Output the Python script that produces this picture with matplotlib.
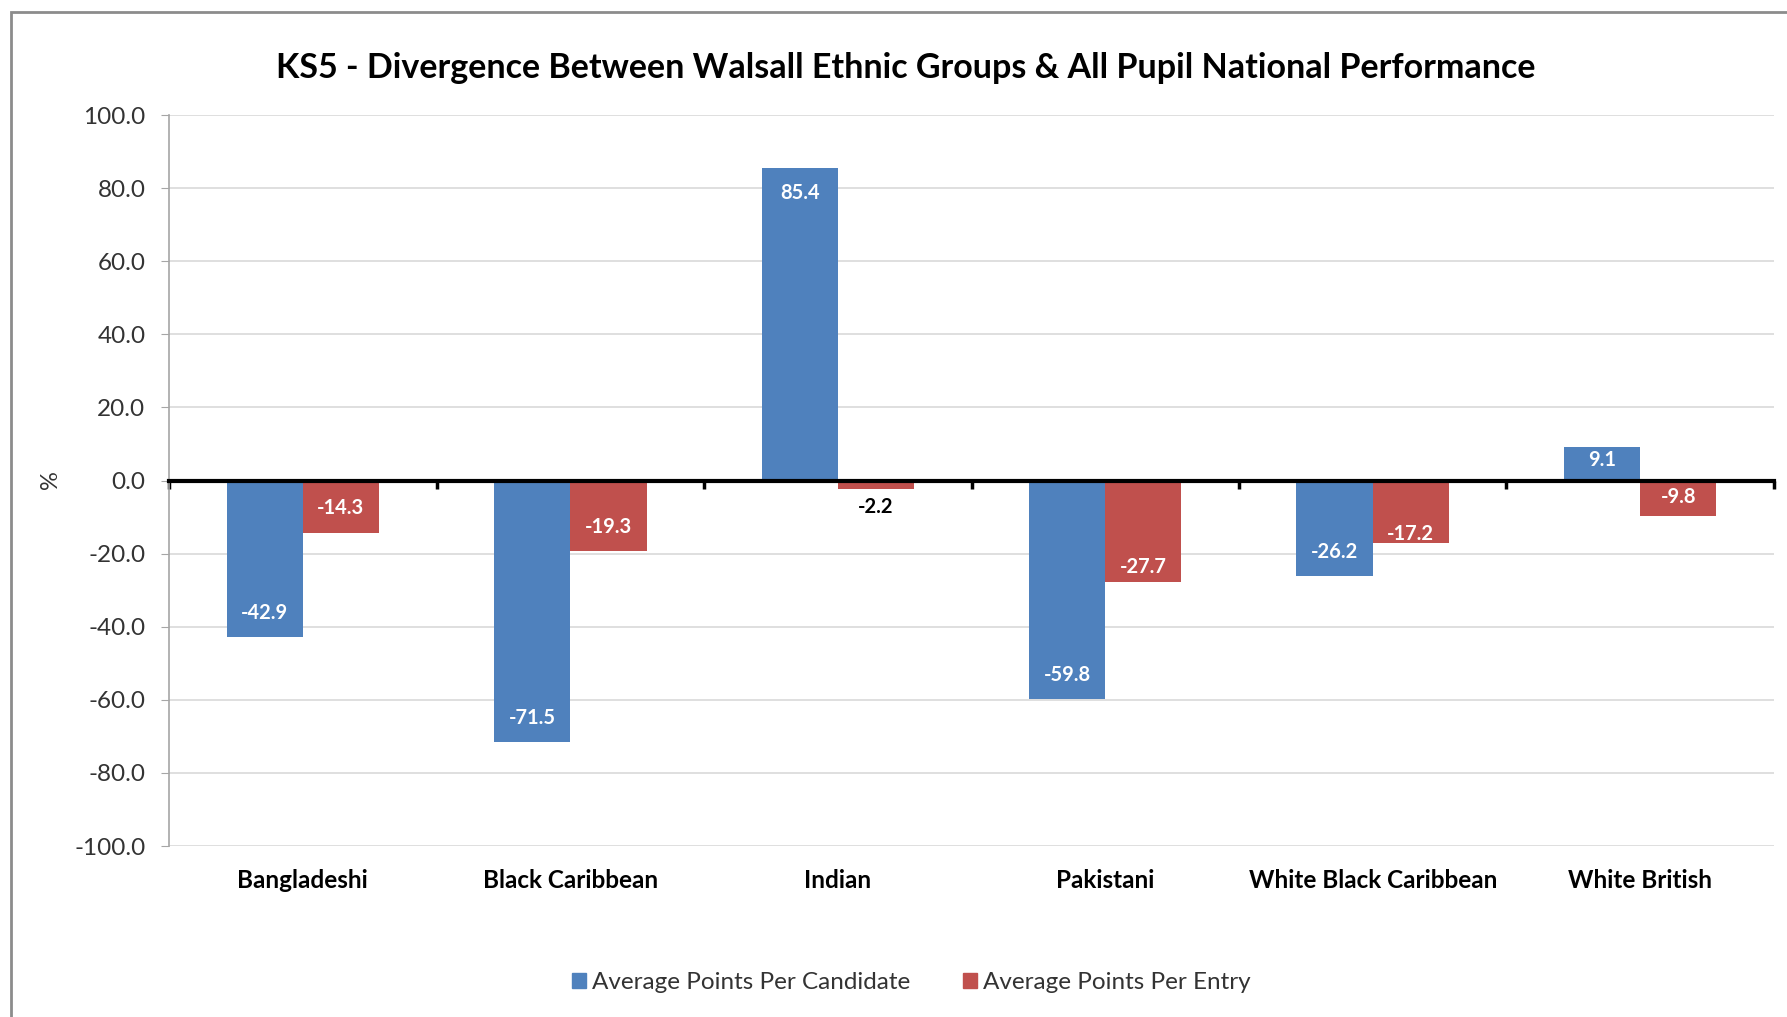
import numpy as np
import matplotlib
matplotlib.use("Agg")
import matplotlib.pyplot as plt
from matplotlib.patches import Rectangle
from matplotlib.patches import Patch
import matplotlib.transforms as mtransforms

plt.rcParams['font.family'] = ['Lato', 'DejaVu Sans']

# data
groups = ["Bangladeshi", "Black Caribbean", "Indian", "Pakistani",
          "White Black Caribbean", "White British"]
per_candidate = [-42.9, -71.5, 85.4, -59.8, -26.2, 9.1]
per_entry = [-14.3, -19.3, -2.2, -27.7, -17.2, -9.8]
series_names = ["Average Points Per Candidate", "Average Points Per Entry"]
yticks = [100, 80, 60, 40, 20, 0, -20, -40, -60, -80, -100]

blue = "#4F81BD"
red = "#C0504D"

fig = plt.figure(figsize=(17.87, 10.17), dpi=100)
# outer chart frame (cropped on right and bottom like the screenshot)
fig.patches.append(Rectangle((11 / 1787, -0.05), 1.2, 1 - 12 / 1017 + 0.05,
                             transform=fig.transFigure, fill=False,
                             edgecolor="#8c8c8c", linewidth=2))

ax = fig.add_axes([0.0946, 0.1681, 0.8981, 0.7188])
x = np.arange(len(groups))
w = 0.285
b1 = ax.bar(x - w / 2, per_candidate, w, color=blue, zorder=3)
b2 = ax.bar(x + w / 2, per_entry, w, color=red, zorder=3)

ax.set_xlim(-0.5, len(groups) - 0.5)
ax.set_ylim(-100, 100)
ax.set_yticks(yticks)
ax.set_yticklabels(["%.1f" % v for v in yticks], fontsize=17.5, color="#333333")
ax.yaxis.grid(True, color="#d9d9d9", linewidth=1.2, zorder=0)
ax.tick_params(axis="y", direction="out", length=6, color="#a6a6a6", pad=11)

for s in ["top", "right"]:
    ax.spines[s].set_visible(False)
ax.spines["left"].set_color("#a6a6a6")
ax.spines["left"].set_linewidth(1.2)
ax.spines["bottom"].set_position(("data", 0))
ax.spines["bottom"].set_color("black")
ax.spines["bottom"].set_linewidth(3)
ax.spines["bottom"].set_zorder(4)
ax.set_xticks(np.arange(len(groups) + 1) - 0.5)
ax.set_xticklabels([])
ax.tick_params(axis="x", direction="out", length=6, width=2.5, color="black")

# category labels at bottom of plot area
trans = mtransforms.blended_transform_factory(ax.transData, ax.transAxes)
for xi, g in zip(x, groups):
    ax.text(xi, -0.047, g, transform=trans, ha="center", va="center",
            fontsize=17.5, fontweight="bold", color="black")

# data labels (inside end; small nudges as in the original)
nudge = {(1, 3): 11, (1, 4): 7}
def label(bars, vals, si):
    for ci, (rect, v) in enumerate(zip(bars, vals)):
        cx = rect.get_x() + rect.get_width() / 2
        sign = 1 if v >= 0 else -1
        if abs(v) < 5:
            off = -sign * 13
            col = "black"
        elif abs(v) < 12:
            off = sign * 9 if v > 0 else sign * 14
            col = "white"
        else:
            off = sign * nudge.get((si, ci), 17.5)
            col = "white"
        ax.annotate("%.1f" % v, (cx, v), xytext=(0, -off),
                    textcoords="offset points", ha="center", va="center",
                    fontsize=14.5, fontweight="bold", color=col, zorder=5)

label(b1, per_candidate, 0)
label(b2, per_entry, 1)

fig.text(0.028, 0.528, "%", rotation=90, ha="center", va="center",
         fontsize=17, color="#333333")
fig.text(0.507, 0.933, "KS5 - Divergence Between Walsall Ethnic Groups & All Pupil National Performance",
         ha="center", va="center", fontsize=24.5, fontweight="bold", color="black")

handles = [Patch(color=blue), Patch(color=red)]
fig.legend(handles, series_names, loc="center", bbox_to_anchor=(0.51, 0.034),
           ncol=2, frameon=False, fontsize=17.5, handlelength=0.55, handleheight=0.55,
           handletextpad=0.25, columnspacing=2.2, labelcolor="#333333")

fig.savefig("out.png", dpi=100)
